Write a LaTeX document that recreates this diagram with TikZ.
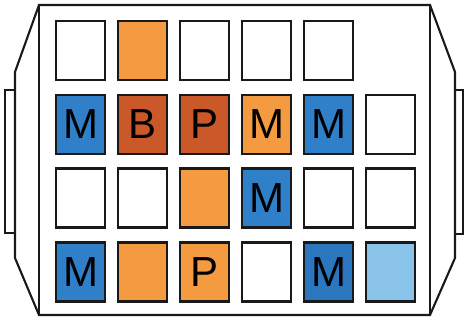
\documentclass[tikz,border=0pt]{standalone}
\usepackage{fontspec}
\setmainfont{Liberation Sans}
\definecolor{cblue}{HTML}{2F80C8}
\definecolor{cdblue}{HTML}{2A76BF}
\definecolor{cred}{HTML}{CB5829}
\definecolor{corange}{HTML}{F49B42}
\definecolor{clblue}{HTML}{8BC4EA}
\tikzset{
  cell/.style={draw=black!90, line width=2.3pt, minimum width=49pt, minimum height=59pt, inner sep=0pt, font=\fontsize{42}{42}\selectfont},
  frame/.style={draw=black!90, line width=2.1pt, line join=miter},
}
\begin{document}
\begin{tikzpicture}[x=1pt,y=-1pt]
\useasboundingbox (0,0) rectangle (468,320);
% outer body
\draw[frame] (15,72) -- (39,5) -- (430,5) -- (455,72) -- (455,258) -- (430,315) -- (39,315) -- (15,258) -- cycle;
\draw[frame] (39,5) -- (39,315);
\draw[frame] (430,5) -- (430,315);
% tabs
\draw[frame] (5,90) rectangle (15,233);
\draw[frame] (455,90) rectangle (463,234);
% row 1
\node[cell, fill=white]   (r1c1) at (80.5,50.5) {};
\node[cell, fill=corange] (r1c2) at (142.5,50.5) {};
\node[cell, fill=white]   (r1c3) at (204.5,50.5) {};
\node[cell, fill=white]   (r1c4) at (266.5,50.5) {};
\node[cell, fill=white]   (r1c5) at (328.5,50.5) {};
% row 2
\node[cell, fill=cblue]   (r2c1) at (80.5,124.5) {M};
\node[cell, fill=cred]    (r2c2) at (142.5,124.5) {B};
\node[cell, fill=cred]    (r2c3) at (204.5,124.5) {P};
\node[cell, fill=corange] (r2c4) at (266.5,124.5) {M};
\node[cell, fill=cblue]   (r2c5) at (328.5,124.5) {M};
\node[cell, fill=white]   (r2c6) at (390.5,124.5) {};
% row 3
\node[cell, fill=white]   (r3c1) at (80.5,198) {};
\node[cell, fill=white]   (r3c2) at (142.5,198) {};
\node[cell, fill=corange] (r3c3) at (204.5,198) {};
\node[cell, fill=cblue]   (r3c4) at (266.5,198) {M};
\node[cell, fill=white]   (r3c5) at (328.5,198) {};
\node[cell, fill=white]   (r3c6) at (390.5,198) {};
% row 4
\node[cell, fill=cblue]   (r4c1) at (80.5,272) {M};
\node[cell, fill=corange] (r4c2) at (142.5,272) {};
\node[cell, fill=corange] (r4c3) at (204.5,272) {P};
\node[cell, fill=white]   (r4c4) at (266.5,272) {};
\node[cell, fill=cdblue]  (r4c5) at (328.5,272) {M};
\node[cell, fill=clblue]  (r4c6) at (390.5,272) {};
\end{tikzpicture}
\end{document}
